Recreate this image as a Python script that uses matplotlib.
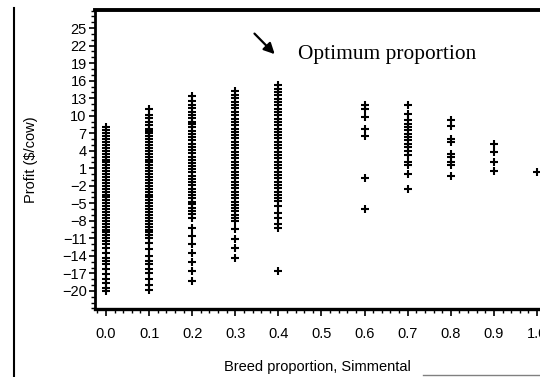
import matplotlib.pyplot as plt
from matplotlib.lines import Line2D
from matplotlib.ticker import MultipleLocator

plt.rcParams['font.family'] = ['Liberation Sans', 'DejaVu Sans']

# breed proportion -> profit values ($/cow)
prop = [0.0, 0.1, 0.2, 0.3, 0.4, 0.6, 0.7, 0.8, 0.9, 1.0]

p00 = [8, 7.5, 7, 6.5, 6, 5.5, 5, 4.5, 4, 3.5, 3, 2.5, 2, 1.5, 1, 0.5, 0,
       -0.5, -1, -1.5, -2, -2.5, -3, -3.5, -4, -4.5, -5, -5.5, -6, -6.5, -7,
       -7.5, -8, -8.5, -9, -9.5, -10, -10.5, -11, -11.5, -12, -12.6, -13.5,
       -14.3, -14.9, -15.4, -16.2, -17.1, -18, -18.6, -19.5, -20]
p01 = [11.1, 10.2, 9.6, 9, 8.4, 7.8, 7.3, 7, 6.5, 6, 5.5, 5, 4.5, 4, 3.5, 3,
       2.5, 2, 1.5, 1, 0.5, 0, -0.5, -1, -1.5, -2, -2.5, -3, -3.5, -4, -4.5,
       -5, -5.5, -6, -6.5, -7, -7.5, -8, -8.5, -9, -9.5, -10, -10.5, -11,
       -11.8, -12.8, -14, -14.9, -15.4, -16.2, -17, -18, -19, -19.8]
p02 = [13.3, 12.6, 11.9, 11.3, 10.7, 10.2, 9.6, 9, 8.5, 8, 7.4, 6.9, 6.3,
       5.8, 5.2, 4.7, 4.1, 3.6, 3, 2.5, 1.9, 1.4, 0.8, 0.3, -0.3, -0.8, -1.4,
       -1.9, -2.5, -3, -3.6, -4.1, -4.7, -5.2, -5.8, -6.3, -6.8, -7.6, -9.2,
       -10.6, -12, -13.5, -15, -16.6, -18.3]
p03 = [14.3, 13.6, 13, 12.4, 11.8, 11.3, 10.7, 10.1, 9.5, 9, 8.4, 7.8, 7.2,
       6.7, 6.1, 5.5, 5, 4.4, 3.8, 3.3, 2.7, 2.1, 1.6, 1, 0.4, -0.2, -0.7,
       -1.3, -1.9, -2.4, -3, -3.6, -4.1, -4.7, -5.3, -5.8, -6.4, -7, -7.5,
       -8, -9.4, -11.1, -12.6, -14.3]
p04 = [15.2, 14.6, 14, 13.5, 12.9, 12.3, 11.8, 11.2, 10.6, 10.1, 9.5, 8.9,
       8.4, 7.8, 7.2, 6.7, 6.1, 5.5, 5, 4.4, 3.8, 3.3, 2.7, 2.1, 1.6, 1, 0.4,
       -0.1, -0.7, -1.3, -1.8, -2.4, -3, -3.5, -4.1, -4.6, -5.4, -6.6, -7.5,
       -8.5, -9.2, -16.6]
p06 = [11.8, 11.1, 9.7, 7.8, 6.6, -0.6, -5.9]
p07 = [11.8, 10.3, 9.2, 8.6, 8.0, 7.5, 6.9, 6.3, 5.8, 5.2, 4.6, 4.0, 3.2,
       2.0, 1.5, 0.0, -2.5]
p08 = [9.2, 8.3, 6.0, 5.5, 3.5, 2.9, 2.0, 1.5, -0.3]
p09 = [5.2, 3.7, 2.0, 0.6]
p10 = [0.4]
profits = [p00, p01, p02, p03, p04, p06, p07, p08, p09, p10]

yticks = [-20, -17, -14, -11, -8, -5, -2, 1, 4, 7, 10, 13, 16, 19, 22, 25]
xticks = [0.0, 0.1, 0.2, 0.3, 0.4, 0.5, 0.6, 0.7, 0.8, 0.9, 1.0]

fig = plt.figure(figsize=(5.4, 3.77), dpi=100)
ax = fig.add_axes([95/540, 68/377, 445/540, 299/377])

for x, ys in zip(prop, profits):
    ax.plot([x]*len(ys), ys, '+', color='black', ms=5.2, mew=1.5)

ax.set_xlim(-0.0255, 1.007)
ax.set_ylim(-23.1, 28.1)
ax.set_xticks(xticks)
ax.set_xticklabels(['%.1f' % v for v in xticks])
ax.set_yticks(yticks)
ax.xaxis.set_minor_locator(MultipleLocator(0.02))
ax.yaxis.set_minor_locator(MultipleLocator(1))

ax.tick_params(axis='x', which='major', length=5, width=1.2, pad=8,
               labelsize=10.5)
ax.tick_params(axis='x', which='minor', length=3, width=1)
ax.tick_params(axis='y', which='major', length=4, width=1.2, pad=2,
               labelsize=10.5)
ax.tick_params(axis='y', which='minor', length=3, width=1)

ax.spines['right'].set_visible(False)
ax.spines['top'].set_linewidth(2.8)
ax.spines['left'].set_linewidth(2)
ax.spines['bottom'].set_linewidth(2.4)

ax.set_xlabel('Breed proportion, Simmental', fontsize=10.5, labelpad=14)
ax.set_ylabel('Profit ($/cow)', fontsize=10.5)
ax.yaxis.set_label_coords(-0.128, 0.5)

ax.annotate('', xy=(0.396, 20.2), xytext=(0.340, 24.4),
            arrowprops=dict(arrowstyle='-|>', color='black', lw=1.6,
                            mutation_scale=16))
ax.text(0.446, 19.7, 'Optimum proportion', family='Liberation Serif',
        fontsize=15.4, va='baseline', ha='left')

# frame line of the scanned page
fig.add_artist(Line2D([14/540, 14/540], [0, 369/377], color='black', lw=1.5))
fig.add_artist(Line2D([423/540, 1], [2/377, 2/377], color='gray', lw=1))

fig.savefig('out.png', dpi=100)
